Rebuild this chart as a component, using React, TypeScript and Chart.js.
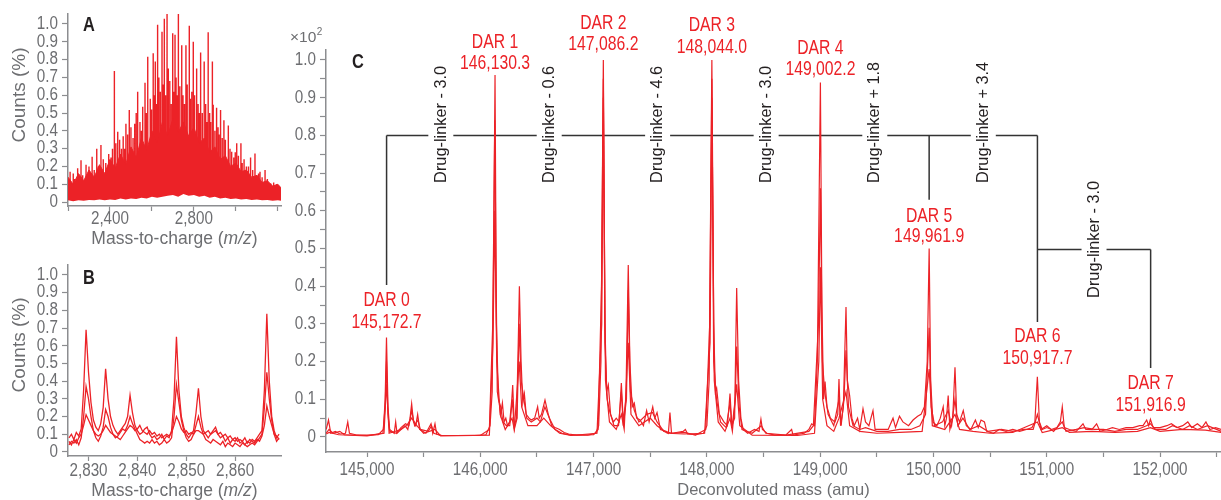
import React, { useEffect, useRef } from "react";
import { Chart, registerables } from "chart.js";

Chart.register(...registerables);

// ---------------- Panel A : raw m/z spectrum ----------------
const bandMzA = [2200, 2225, 2250, 2275, 2300, 2325, 2350, 2375, 2400, 2425, 2450, 2475, 2500, 2525, 2550, 2575, 2600, 2625, 2650, 2675, 2700, 2725, 2750, 2775, 2800, 2825, 2850, 2875, 2900, 2925, 2950, 2975, 3000, 3025, 3050, 3075, 3100, 3125, 3150, 3175, 3200, 3215];
const bandTopA = [0.14, 0.10, 0.16, 0.12, 0.18, 0.14, 0.21, 0.16, 0.24, 0.19, 0.27, 0.21, 0.31, 0.25, 0.36, 0.29, 0.40, 0.33, 0.45, 0.37, 0.47, 0.39, 0.45, 0.37, 0.42, 0.33, 0.36, 0.28, 0.31, 0.24, 0.26, 0.20, 0.22, 0.17, 0.18, 0.14, 0.15, 0.11, 0.12, 0.09, 0.10, 0.08];
const bandLowA = [0.010, 0.005, 0.010, 0.008, 0.012, 0.010, 0.015, 0.010, 0.015, 0.012, 0.020, 0.015, 0.020, 0.018, 0.025, 0.020, 0.030, 0.025, 0.030, 0.035, 0.040, 0.030, 0.045, 0.035, 0.040, 0.030, 0.035, 0.025, 0.030, 0.020, 0.025, 0.018, 0.020, 0.015, 0.018, 0.012, 0.015, 0.010, 0.012, 0.008, 0.010, 0.008];
const spikeMzA = [2210, 2225, 2230, 2246, 2262, 2270, 2286, 2292, 2300, 2315, 2325, 2337, 2345, 2357, 2368, 2380, 2394, 2405, 2412, 2421, 2428, 2437, 2446, 2455, 2463, 2470, 2476, 2484, 2492, 2500, 2510, 2518, 2525, 2532, 2543, 2550, 2556, 2567, 2573, 2580, 2592, 2598, 2606, 2612, 2616, 2621, 2627, 2633, 2640, 2648, 2654, 2659, 2665, 2672, 2678, 2685, 2692, 2699, 2704, 2710, 2715, 2720, 2726, 2733, 2742, 2748, 2755, 2762, 2768, 2778, 2783, 2790, 2797, 2803, 2813, 2820, 2826, 2832, 2840, 2849, 2856, 2862, 2868, 2875, 2880, 2888, 2892, 2900, 2908, 2915, 2920, 2927, 2935, 2943, 2950, 2964, 2972, 2980, 2990, 2997, 3004, 3012, 3024, 3030, 3039, 3050, 3060, 3070, 3080, 3091, 3100, 3108, 3115, 3125, 3139, 3150, 3166, 3180, 3194, 3210];
const spikeTopA = [0.17, 0.16, 0.13, 0.19, 0.235, 0.15, 0.21, 0.14, 0.20, 0.255, 0.18, 0.30, 0.20, 0.32, 0.24, 0.22, 0.27, 0.25, 0.30, 0.736, 0.33, 0.395, 0.35, 0.30, 0.37, 0.30, 0.44, 0.38, 0.517, 0.42, 0.36, 0.44, 0.50, 0.62, 0.45, 0.40, 0.535, 0.67, 0.50, 0.816, 0.58, 0.52, 0.835, 0.60, 0.79, 0.55, 0.995, 0.70, 0.62, 0.957, 0.66, 1.03, 0.60, 1.06, 0.75, 0.68, 0.55, 0.948, 0.62, 0.94, 0.70, 0.60, 1.06, 0.65, 0.88, 0.60, 0.55, 0.88, 0.66, 0.99, 0.58, 0.62, 0.90, 0.60, 0.75, 0.55, 0.50, 0.84, 0.50, 0.79, 0.55, 0.45, 0.953, 0.50, 0.45, 0.79, 0.546, 0.40, 0.53, 0.42, 0.38, 0.517, 0.36, 0.46, 0.35, 0.43, 0.30, 0.283, 0.25, 0.28, 0.33, 0.26, 0.33, 0.22, 0.24, 0.20, 0.20, 0.25, 0.18, 0.273, 0.15, 0.16, 0.17, 0.14, 0.18, 0.13, 0.105, 0.11, 0.10, 0.08];
const tickMarksXA = [2200, 2400, 2600, 2800, 3000, 3200];
const tickLabelsXA = [2400, 2800];

// ---------------- Panel B : zoomed m/z ----------------
const mzB = [2826, 2826.5, 2827, 2827.5, 2828, 2828.5, 2829, 2829.5, 2830, 2830.5, 2831, 2831.5, 2832, 2832.5, 2833, 2833.5, 2834, 2834.5, 2835, 2835.5, 2836, 2836.5, 2837, 2837.5, 2838, 2838.5, 2839, 2839.5, 2840, 2840.5, 2841, 2841.5, 2842, 2842.5, 2843, 2843.5, 2844, 2844.5, 2845, 2845.5, 2846, 2846.5, 2847, 2847.5, 2848, 2848.5, 2849, 2849.5, 2850, 2850.5, 2851, 2851.5, 2852, 2852.5, 2853, 2853.5, 2854, 2854.5, 2855, 2855.5, 2856, 2856.5, 2857, 2857.5, 2858, 2858.5, 2859, 2859.5, 2860, 2860.5, 2861, 2861.5, 2862, 2862.5, 2863, 2863.5, 2864, 2864.5, 2865, 2865.5, 2866, 2866.5, 2867, 2867.5, 2868, 2868.5, 2869];
const countsB1 = [0.08, 0.10, 0.07, 0.11, 0.09, 0.13, 0.35, 0.69, 0.45, 0.28, 0.18, 0.14, 0.12, 0.16, 0.25, 0.47, 0.30, 0.20, 0.15, 0.12, 0.10, 0.12, 0.14, 0.16, 0.20, 0.32, 0.22, 0.15, 0.12, 0.10, 0.11, 0.13, 0.14, 0.10, 0.08, 0.09, 0.07, 0.08, 0.10, 0.07, 0.09, 0.08, 0.12, 0.30, 0.65, 0.35, 0.20, 0.14, 0.10, 0.08, 0.10, 0.12, 0.22, 0.36, 0.20, 0.12, 0.10, 0.08, 0.10, 0.12, 0.14, 0.10, 0.08, 0.09, 0.06, 0.08, 0.05, 0.07, 0.06, 0.08, 0.05, 0.06, 0.04, 0.06, 0.05, 0.07, 0.06, 0.08, 0.10, 0.12, 0.35, 0.78, 0.40, 0.20, 0.12, 0.08, 0.10];
const countsB2 = [0.04, 0.06, 0.05, 0.07, 0.04, 0.08, 0.20, 0.37, 0.30, 0.20, 0.12, 0.08, 0.06, 0.09, 0.14, 0.24, 0.20, 0.14, 0.10, 0.08, 0.09, 0.11, 0.13, 0.12, 0.15, 0.20, 0.16, 0.13, 0.10, 0.07, 0.06, 0.05, 0.06, 0.05, 0.07, 0.05, 0.06, 0.04, 0.05, 0.07, 0.05, 0.06, 0.08, 0.20, 0.38, 0.28, 0.18, 0.12, 0.08, 0.06, 0.07, 0.10, 0.15, 0.20, 0.14, 0.10, 0.07, 0.06, 0.05, 0.07, 0.06, 0.05, 0.04, 0.06, 0.03, 0.05, 0.04, 0.03, 0.05, 0.04, 0.03, 0.05, 0.04, 0.03, 0.04, 0.05, 0.04, 0.06, 0.08, 0.10, 0.25, 0.45, 0.30, 0.18, 0.10, 0.06, 0.08];
const countsB3 = [0.06, 0.04, 0.07, 0.05, 0.08, 0.10, 0.15, 0.21, 0.18, 0.15, 0.12, 0.10, 0.09, 0.10, 0.12, 0.15, 0.13, 0.11, 0.10, 0.09, 0.08, 0.07, 0.09, 0.11, 0.13, 0.15, 0.14, 0.12, 0.13, 0.15, 0.12, 0.11, 0.10, 0.12, 0.10, 0.11, 0.09, 0.10, 0.08, 0.09, 0.10, 0.09, 0.11, 0.15, 0.20, 0.17, 0.13, 0.11, 0.12, 0.10, 0.11, 0.10, 0.12, 0.12, 0.11, 0.10, 0.11, 0.12, 0.10, 0.11, 0.12, 0.10, 0.11, 0.09, 0.10, 0.08, 0.09, 0.07, 0.08, 0.06, 0.07, 0.06, 0.08, 0.05, 0.07, 0.06, 0.05, 0.07, 0.06, 0.09, 0.15, 0.26, 0.20, 0.15, 0.10, 0.09, 0.07];
const tickMarksXB = [2830, 2840, 2850, 2860];

// shared count ticks for A and B
const tickMarksY = [0, 0.1, 0.2, 0.3, 0.4, 0.5, 0.6, 0.7, 0.8, 0.9, 1.0];

// ---------------- Panel C : deconvoluted mass ----------------
const traceC1: [number, number][] = [
  [144640, 0.02], [144660, 0.045], [144680, 0.01], [144720, 0.015], [144760, 0.008], [144810, 0.01], [144830, 0.04], [144845, 0.01], [144900, 0.006], [145000, 0.005], [145100, 0.006], [145145, 0.02], [145160, 0.1], [145172, 0.264], [145185, 0.08], [145200, 0.02], [145240, 0.01], [145253, 0.04], [145265, 0.01], [145300, 0.02], [145335, 0.03], [145360, 0.02], [145380, 0.05], [145394, 0.088], [145410, 0.04], [145430, 0.03], [145447, 0.06], [145465, 0.02], [145520, 0.01], [145565, 0.035], [145580, 0.01], [145600, 0.035], [145615, 0.008], [145660, 0.004], [145800, 0.004], [145950, 0.004], [146050, 0.006],
  [146086, 0.03], [146105, 0.12], [146118, 0.5], [146130, 0.96], [146140, 0.4], [146150, 0.12], [146165, 0.095], [146180, 0.06], [146195, 0.09], [146210, 0.04], [146225, 0.05], [146240, 0.03], [146260, 0.04], [146278, 0.1], [146286, 0.138], [146300, 0.03], [146320, 0.05], [146335, 0.25], [146345, 0.4], [146360, 0.2], [146375, 0.09], [146389, 0.115], [146405, 0.06], [146430, 0.05], [146450, 0.045], [146480, 0.05], [146506, 0.08], [146520, 0.05], [146540, 0.06], [146571, 0.098], [146600, 0.06], [146630, 0.03], [146660, 0.025], [146700, 0.02], [146740, 0.012], [146780, 0.008], [146850, 0.005], [146950, 0.005],
  [147020, 0.01], [147045, 0.03], [147065, 0.2], [147086, 1.0], [147100, 0.3], [147115, 0.12], [147130, 0.138], [147150, 0.06], [147175, 0.04], [147200, 0.05], [147225, 0.04], [147245, 0.143], [147262, 0.04], [147285, 0.1], [147306, 0.456], [147320, 0.2], [147340, 0.08], [147359, 0.09], [147380, 0.05], [147410, 0.045], [147440, 0.03], [147468, 0.07], [147490, 0.04], [147522, 0.08], [147540, 0.05], [147560, 0.065], [147590, 0.02], [147640, 0.015], [147660, 0.01], [147674, 0.065], [147688, 0.01], [147730, 0.012], [147790, 0.015], [147810, 0.02], [147830, 0.008], [147900, 0.006], [147970, 0.01],
  [148000, 0.03], [148020, 0.15], [148044, 1.0], [148060, 0.3], [148075, 0.12], [148086, 0.13], [148110, 0.06], [148150, 0.04], [148180, 0.03], [148195, 0.08], [148204, 0.115], [148220, 0.03], [148245, 0.05], [148255, 0.25], [148263, 0.395], [148280, 0.15], [148300, 0.05], [148320, 0.02], [148360, 0.01], [148420, 0.02], [148460, 0.015], [148477, 0.047], [148490, 0.02], [148530, 0.01], [148600, 0.005], [148700, 0.006], [148748, 0.02], [148760, 0.005], [148860, 0.01], [148900, 0.02], [148925, 0.035], [148950, 0.03],
  [148975, 0.2], [149002, 0.94], [149015, 0.35], [149030, 0.1], [149043, 0.147], [149060, 0.08], [149090, 0.05], [149130, 0.04], [149155, 0.06], [149166, 0.154], [149180, 0.03], [149205, 0.08], [149215, 0.2], [149228, 0.345], [149240, 0.15], [149260, 0.11], [149280, 0.05], [149300, 0.03], [149330, 0.05], [149350, 0.02], [149378, 0.075], [149400, 0.04], [149430, 0.03], [149466, 0.07], [149485, 0.02], [149530, 0.02], [149600, 0.02], [149643, 0.05], [149665, 0.025], [149700, 0.055], [149730, 0.04], [149780, 0.03], [149820, 0.045], [149860, 0.055], [149890, 0.06], [149920, 0.08],
  [149945, 0.2], [149962, 0.5], [149975, 0.15], [149995, 0.04], [150030, 0.03], [150060, 0.05], [150086, 0.08], [150100, 0.03], [150115, 0.05], [150130, 0.11], [150145, 0.02], [150170, 0.05], [150190, 0.185], [150205, 0.06], [150230, 0.04], [150263, 0.07], [150290, 0.03], [150330, 0.02], [150370, 0.045], [150395, 0.025], [150420, 0.045], [150450, 0.04], [150470, 0.015], [150530, 0.01], [150580, 0.02], [150640, 0.015], [150700, 0.02], [150760, 0.015], [150820, 0.02], [150870, 0.025],
  [150895, 0.04], [150917, 0.16], [150935, 0.04], [150960, 0.02], [151000, 0.025], [151040, 0.02], [151090, 0.025], [151120, 0.04], [151137, 0.08], [151155, 0.025], [151200, 0.02], [151260, 0.015], [151320, 0.035], [151345, 0.02], [151400, 0.02], [151440, 0.035], [151470, 0.015], [151530, 0.02], [151580, 0.025], [151640, 0.02], [151700, 0.025], [151760, 0.025], [151820, 0.03], [151850, 0.03], [151882, 0.045], [151900, 0.03], [151915, 0.047], [151940, 0.025], [152000, 0.025], [152060, 0.03], [152100, 0.035], [152150, 0.025], [152200, 0.03], [152245, 0.04], [152280, 0.025], [152330, 0.035], [152370, 0.025], [152405, 0.04], [152440, 0.02], [152490, 0.025], [152540, 0.02],
];
const traceC2: [number, number][] = [
  [144640, 0.01], [144665, 0.02], [144700, 0.01], [144760, 0.015], [144800, 0.006], [145000, 0.004], [145140, 0.01], [145160, 0.08], [145172, 0.2], [145185, 0.06], [145200, 0.015], [145260, 0.01], [145300, 0.025], [145340, 0.035], [145370, 0.03], [145394, 0.07], [145420, 0.03], [145450, 0.045], [145470, 0.02], [145540, 0.015], [145570, 0.03], [145590, 0.01], [145650, 0.004], [146000, 0.004],
  [146080, 0.02], [146110, 0.3], [146128, 0.84], [146142, 0.3], [146160, 0.1], [146180, 0.08], [146200, 0.04], [146230, 0.03], [146260, 0.03], [146283, 0.1], [146300, 0.02], [146325, 0.05], [146343, 0.3], [146360, 0.15], [146385, 0.1], [146410, 0.05], [146450, 0.04], [146500, 0.05], [146530, 0.04], [146570, 0.08], [146610, 0.05], [146660, 0.02], [146720, 0.01], [146800, 0.005], [147000, 0.006],
  [147040, 0.02], [147070, 0.4], [147086, 0.95], [147100, 0.25], [147120, 0.1], [147140, 0.07], [147180, 0.03], [147220, 0.03], [147245, 0.12], [147262, 0.03], [147290, 0.1], [147306, 0.39], [147325, 0.12], [147360, 0.07], [147400, 0.04], [147470, 0.06], [147520, 0.065], [147560, 0.04], [147620, 0.015], [147700, 0.01], [147800, 0.012], [147900, 0.005],
  [147990, 0.02], [148025, 0.3], [148044, 0.95], [148060, 0.2], [148085, 0.1], [148120, 0.04], [148170, 0.025], [148204, 0.09], [148222, 0.025], [148250, 0.1], [148263, 0.24], [148285, 0.08], [148310, 0.02], [148400, 0.01], [148480, 0.03], [148520, 0.01], [148700, 0.005], [148900, 0.015], [148940, 0.03],
  [148985, 0.3], [149002, 0.66], [149020, 0.2], [149040, 0.12], [149070, 0.06], [149120, 0.03], [149166, 0.1], [149185, 0.03], [149210, 0.1], [149228, 0.23], [149250, 0.08], [149290, 0.03], [149350, 0.02], [149400, 0.025], [149500, 0.015], [149600, 0.015], [149700, 0.02], [149800, 0.02], [149880, 0.03],
  [149930, 0.06], [149962, 0.29], [149980, 0.08], [150010, 0.03], [150080, 0.04], [150130, 0.07], [150160, 0.03], [150190, 0.1], [150215, 0.03], [150260, 0.05], [150320, 0.02], [150400, 0.03], [150480, 0.015], [150600, 0.02], [150700, 0.015], [150800, 0.02], [150880, 0.02],
  [150917, 0.06], [150950, 0.02], [151000, 0.03], [151060, 0.015], [151137, 0.04], [151170, 0.015], [151260, 0.02], [151330, 0.025], [151420, 0.02], [151500, 0.02], [151600, 0.015], [151700, 0.02], [151800, 0.02], [151880, 0.03], [151915, 0.035], [151960, 0.02], [152050, 0.02], [152110, 0.03], [152200, 0.02], [152260, 0.03], [152330, 0.02], [152420, 0.03], [152540, 0.015],
];
const traceC3: [number, number][] = [
  [144640, 0.008], [144665, 0.012], [144750, 0.006], [145000, 0.003], [145150, 0.01], [145172, 0.14], [145195, 0.01], [145300, 0.02], [145350, 0.03], [145394, 0.05], [145440, 0.03], [145500, 0.01], [145600, 0.02], [145650, 0.003], [146080, 0.005],
  [146112, 0.25], [146128, 0.6], [146145, 0.2], [146175, 0.06], [146220, 0.02], [146280, 0.05], [146300, 0.02], [146343, 0.2], [146365, 0.08], [146420, 0.03], [146500, 0.03], [146560, 0.05], [146620, 0.03], [146700, 0.01], [146800, 0.004], [147030, 0.01],
  [147072, 0.3], [147086, 0.9], [147105, 0.15], [147140, 0.04], [147200, 0.02], [147245, 0.06], [147270, 0.02], [147306, 0.25], [147330, 0.06], [147400, 0.03], [147500, 0.05], [147560, 0.03], [147650, 0.01], [147800, 0.008], [147980, 0.01],
  [148028, 0.25], [148044, 0.9], [148065, 0.15], [148100, 0.04], [148160, 0.015], [148204, 0.05], [148225, 0.015], [148263, 0.14], [148290, 0.03], [148400, 0.005], [148800, 0.004], [148950, 0.01],
  [148988, 0.2], [149002, 0.45], [149022, 0.1], [149060, 0.03], [149120, 0.015], [149166, 0.05], [149228, 0.12], [149260, 0.03], [149350, 0.015], [149500, 0.01], [149700, 0.012], [149900, 0.015],
  [149962, 0.18], [149990, 0.03], [150100, 0.02], [150190, 0.06], [150230, 0.02], [150350, 0.015], [150500, 0.01], [150700, 0.012], [150917, 0.04], [150960, 0.012], [151137, 0.025], [151200, 0.012], [151400, 0.015], [151600, 0.012], [151800, 0.015], [151915, 0.025], [152000, 0.015], [152200, 0.02], [152400, 0.018], [152540, 0.012],
];
const tickMarksXC = [145000, 145500, 146000, 146500, 147000, 147500, 148000, 148500, 149000, 149500, 150000, 150500, 151000, 151500, 152000, 152500];
const tickMarksYC = [0, 0.05, 0.1, 0.15, 0.2, 0.25, 0.3, 0.35, 0.4, 0.45, 0.5, 0.55, 0.6, 0.65, 0.7, 0.75, 0.8, 0.85, 0.9, 0.95, 1.0];
const darNames = ["DAR 0", "DAR 1", "DAR 2", "DAR 3", "DAR 4", "DAR 5", "DAR 6", "DAR 7"];
const darMasses = [145172.7, 146130.3, 147086.2, 148044.0, 149002.2, 149961.9, 150917.7, 151916.9];
const darMassText = ["145,172.7", "146,130.3", "147,086.2", "148,044.0", "149,002.2", "149,961.9", "150,917.7", "151,916.9"];
const linkerLabels = ["Drug-linker - 3.0", "Drug-linker - 0.6", "Drug-linker - 4.6", "Drug-linker - 3.0", "Drug-linker + 1.8", "Drug-linker + 3.4", "Drug-linker - 3.0"];

// ---------------- layout / style ----------------
const RED = "#ec2227";
const GRAY = "#6d6e71";
const AXIS = "#8c8d90";
const INK = "#231f20";
const FAMILY = "'Liberation Sans', Arial, sans-serif";
const SPIKE_BASE = 0.05;
const darLabelLevels = [[0.363, 0.305], [1.048, 0.992], [1.098, 1.042], [1.093, 1.034], [1.032, 0.976], [0.586, 0.533], [0.268, 0.21], [0.143, 0.085]];
const ladderMain = 0.8;
const ladderSecond = 0.497;
const ladderDrops = [[0, 0.8, 0.403], [5, 0.8, 0.629], [6, 0.8, 0.305], [7, 0.497, 0.183]];

const fmtThousands = (v: number) => Math.round(v).toLocaleString("en-US");
const fmtFrac = (v: number) => {
  const r = Math.round(v * 100);
  if (r % 10 !== 0) return "";
  if (r === 0) return "0";
  return (r / 100).toFixed(1);
};

type TextOpts = { size: number; sx?: number; color?: string; align?: CanvasTextAlign; bold?: boolean; italic?: boolean; rotate?: boolean };
function narrowText(ctx: CanvasRenderingContext2D, text: string, x: number, y: number, o: TextOpts) {
  ctx.save();
  ctx.translate(x, y);
  if (o.rotate) ctx.rotate(-Math.PI / 2);
  ctx.scale(o.sx ?? 1, 1);
  ctx.font = `${o.italic ? "italic " : ""}${o.bold ? "bold " : ""}${o.size}px ${FAMILY}`;
  ctx.fillStyle = o.color ?? GRAY;
  ctx.textAlign = o.align ?? "left";
  ctx.textBaseline = "middle";
  ctx.fillText(text, 0, 0);
  ctx.restore();
}
function textWidth(ctx: CanvasRenderingContext2D, text: string, o: TextOpts) {
  ctx.save();
  ctx.font = `${o.italic ? "italic " : ""}${o.bold ? "bold " : ""}${o.size}px ${FAMILY}`;
  const w = ctx.measureText(text).width * (o.sx ?? 1);
  ctx.restore();
  return w;
}
function drawTitle(ctx: CanvasRenderingContext2D, parts: [string, boolean][], cx: number, cy: number, size: number, sx: number) {
  const ws = parts.map((p) => textWidth(ctx, p[0], { size, sx, italic: p[1] }));
  let x = cx - ws.reduce((a, b) => a + b, 0) / 2;
  parts.forEach((p, i) => {
    narrowText(ctx, p[0], x, cy, { size, sx, italic: p[1], align: "left" });
    x += ws[i];
  });
}

const TICK_FONT: TextOpts = { size: 17.5, sx: 0.87, color: GRAY };
const setTicks = (values: number[]) => (s: any) => { s.ticks = values.map((value) => ({ value })); };

function yAxis(min: number, max: number, ticks: number[], width: number) {
  return {
    type: "linear",
    min,
    max,
    afterFit: (s: any) => { s.width = width; },
    afterBuildTicks: setTicks(ticks),
    border: { display: true, color: AXIS, width: 1.5 },
    grid: { display: true, drawOnChartArea: false, drawTicks: true, tickLength: 6, tickColor: AXIS, tickWidth: 1.2 },
    ticks: { display: false, autoSkip: false },
  };
}
function xAxis(min: number, max: number, ticks: number[], height: number) {
  return {
    type: "linear",
    min,
    max,
    afterFit: (s: any) => { s.height = height; },
    afterBuildTicks: setTicks(ticks),
    border: { display: true, color: AXIS, width: 1.5 },
    grid: { display: true, drawOnChartArea: false, drawTicks: true, tickLength: 5, tickColor: AXIS, tickWidth: 1.2 },
    ticks: { display: false, autoSkip: false, maxRotation: 0, minRotation: 0 },
  };
}
// draws tick labels of both axes with the narrow face
function tickLabels(id: string, xLabel: (v: number) => string, xOffset: number) {
  return {
    id,
    afterDraw(chart: any) {
      const { ctx, chartArea, scales } = chart;
      scales.x.ticks.forEach((t: any) => {
        const s = xLabel(t.value);
        if (s) narrowText(ctx, s, scales.x.getPixelForValue(t.value), chartArea.bottom + xOffset, { ...TICK_FONT, align: "center" });
      });
      scales.y.ticks.forEach((t: any) => {
        const s = fmtFrac(t.value);
        if (s) narrowText(ctx, s, chartArea.left - 10, scales.y.getPixelForValue(t.value), { ...TICK_FONT, align: "right" });
      });
    },
  };
}

const baseOptions = (padRight: number, padTop: number) => ({
  animation: false,
  responsive: false,
  devicePixelRatio: 1,
  events: [],
  layout: { padding: { left: 0, right: padRight, top: padTop, bottom: 0 } },
  plugins: { legend: { display: false }, tooltip: { enabled: false } },
  elements: { line: { tension: 0 }, point: { radius: 0 } },
});

const mzTitle: [string, boolean][] = [["Mass-to-charge (", false], ["m/z", true], [")", false]];
const LETTER: TextOpts = { size: 21, sx: 0.78, bold: true, color: INK, align: "left" };

export default function App() {
  const refA = useRef<HTMLCanvasElement>(null);
  const refB = useRef<HTMLCanvasElement>(null);
  const refC = useRef<HTMLCanvasElement>(null);

  useEffect(() => {
    // ----- A -----
    const spikes = spikeMzA.flatMap((x, i) => [{ x, y: SPIKE_BASE }, { x, y: spikeTopA[i] }, { x, y: SPIKE_BASE }]);
    const decoA = {
      id: "decoA",
      afterDraw(chart: any) {
        const { ctx, chartArea } = chart;
        narrowText(ctx, "A", 83, 25, LETTER);
        narrowText(ctx, "Counts (%)", 20, 95, { size: 19, sx: 1, rotate: true, align: "center" });
        drawTitle(ctx, mzTitle, (chartArea.left + chartArea.right) / 2, 239, 17.5, 1);
      },
    };
    const chartA = new Chart(refA.current as HTMLCanvasElement, {
      type: "line",
      data: {
        datasets: [
          { data: bandMzA.map((x, i) => ({ x, y: bandLowA[i] })), borderWidth: 0, borderColor: RED, pointRadius: 0, fill: false },
          { data: bandMzA.map((x, i) => ({ x, y: bandTopA[i] })), borderWidth: 1, borderColor: RED, backgroundColor: RED, pointRadius: 0, fill: "-1" },
          { data: spikes, borderWidth: 1.4, borderColor: RED, pointRadius: 0, fill: false },
        ],
      },
      options: {
        ...baseOptions(9, 14),
        scales: { x: xAxis(2200, 3215, tickMarksXA, 44), y: yAxis(-0.022, 1.056, tickMarksY, 68) },
      } as any,
      plugins: [tickLabels("ticksA", (v) => (tickLabelsXA.includes(Math.round(v)) ? fmtThousands(v) : ""), 13), decoA],
    } as any);

    // ----- B -----
    const decoB = {
      id: "decoB",
      afterDraw(chart: any) {
        const { ctx, chartArea } = chart;
        narrowText(ctx, "B", 83, 28, LETTER);
        narrowText(ctx, "Counts (%)", 20, 95, { size: 19, sx: 1, rotate: true, align: "center" });
        drawTitle(ctx, mzTitle, (chartArea.left + chartArea.right) / 2, 241, 17.5, 1);
      },
    };
    const lineB = (vals: number[]) => ({ data: mzB.map((x, i) => ({ x, y: vals[i] })), borderWidth: 1.3, borderColor: RED, pointRadius: 0, fill: false });
    const chartB = new Chart(refB.current as HTMLCanvasElement, {
      type: "line",
      data: { datasets: [lineB(countsB3), lineB(countsB2), lineB(countsB1)] },
      options: {
        ...baseOptions(9, 15),
        scales: { x: xAxis(2825.8, 2869.4, tickMarksXB, 44), y: yAxis(-0.023, 1.056, tickMarksY, 68) },
      } as any,
      plugins: [tickLabels("ticksB", (v) => fmtThousands(v), 15), decoB],
    } as any);

    // ----- C -----
    const ladder = {
      id: "ladderC",
      beforeDatasetsDraw(chart: any) {
        const { ctx, scales } = chart;
        const X = (m: number) => scales.x.getPixelForValue(m);
        const Y = (v: number) => scales.y.getPixelForValue(v);
        ctx.save();
        ctx.strokeStyle = "#333333";
        ctx.lineWidth = 1.5;
        ctx.beginPath();
        ctx.moveTo(X(darMasses[0]), Y(ladderMain));
        ctx.lineTo(X(darMasses[6]), Y(ladderMain));
        ctx.moveTo(X(darMasses[6]), Y(ladderSecond));
        ctx.lineTo(X(darMasses[7]), Y(ladderSecond));
        ladderDrops.forEach(([i, from, to]) => {
          ctx.moveTo(X(darMasses[i]), Y(from));
          ctx.lineTo(X(darMasses[i]), Y(to));
        });
        ctx.stroke();
        ctx.restore();
        linkerLabels.forEach((t, i) => {
          const cx = X((darMasses[i] + darMasses[i + 1]) / 2);
          const lineY = i < 6 ? ladderMain : ladderSecond;
          const start = i < 6 ? 0.674 : 0.369;
          ctx.save();
          ctx.fillStyle = "#ffffff";
          ctx.fillRect(cx - 12.5, Y(lineY) - 4, 25, 8);
          ctx.restore();
          narrowText(ctx, t, cx, Y(start), { size: 17, sx: 0.96, color: INK, rotate: true, align: "left" });
        });
      },
      afterDraw(chart: any) {
        const { ctx, scales, chartArea } = chart;
        const X = (m: number) => scales.x.getPixelForValue(m);
        const Y = (v: number) => scales.y.getPixelForValue(v);
        const darFont: TextOpts = { size: 21, sx: 0.75, color: RED, align: "center" };
        darNames.forEach((n, i) => {
          narrowText(ctx, n, X(darMasses[i]), Y(darLabelLevels[i][0]), darFont);
          narrowText(ctx, darMassText[i], X(darMasses[i]), Y(darLabelLevels[i][1]), darFont);
        });
        narrowText(ctx, "C", 72, 62, LETTER);
        narrowText(ctx, "×10", 10, 38, { size: 15.5, sx: 1, align: "left" });
        const w = textWidth(ctx, "×10", { size: 15.5 });
        narrowText(ctx, "2", 10 + w + 0.5, 32, { size: 10, sx: 1, align: "left" });
        drawTitle(ctx, [["Deconvoluted mass (amu)", false]], (chartArea.left + chartArea.right) / 2, 490, 16.5, 1);
      },
    };
    const lineC = (tr: [number, number][]) => ({ data: tr.map(([x, y]) => ({ x, y })), borderWidth: 1.2, borderColor: RED, pointRadius: 0, fill: false });
    const chartC = new Chart(refC.current as HTMLCanvasElement, {
      type: "line",
      data: { datasets: [lineC(traceC3), lineC(traceC2), lineC(traceC1)] },
      options: {
        ...baseOptions(0, 50),
        scales: { x: xAxis(144638, 152538, tickMarksXC, 48), y: yAxis(-0.0398, 1.0265, tickMarksYC, 46) },
      } as any,
      plugins: [tickLabels("ticksC", (v) => (Math.round(v) % 1000 === 0 ? fmtThousands(v) : ""), 18), ladder],
    } as any);

    return () => {
      chartA.destroy();
      chartB.destroy();
      chartC.destroy();
    };
  }, []);

  return (
    <div style={{ position: "absolute", left: 0, top: 0, width: 1221, height: 500, background: "#ffffff", overflow: "hidden" }}>
      <canvas ref={refA} width={290} height={250} style={{ position: "absolute", left: 0, top: 0 }} />
      <canvas ref={refB} width={290} height={250} style={{ position: "absolute", left: 0, top: 250 }} />
      <canvas ref={refC} width={941} height={500} style={{ position: "absolute", left: 280, top: 0 }} />
    </div>
  );
}
